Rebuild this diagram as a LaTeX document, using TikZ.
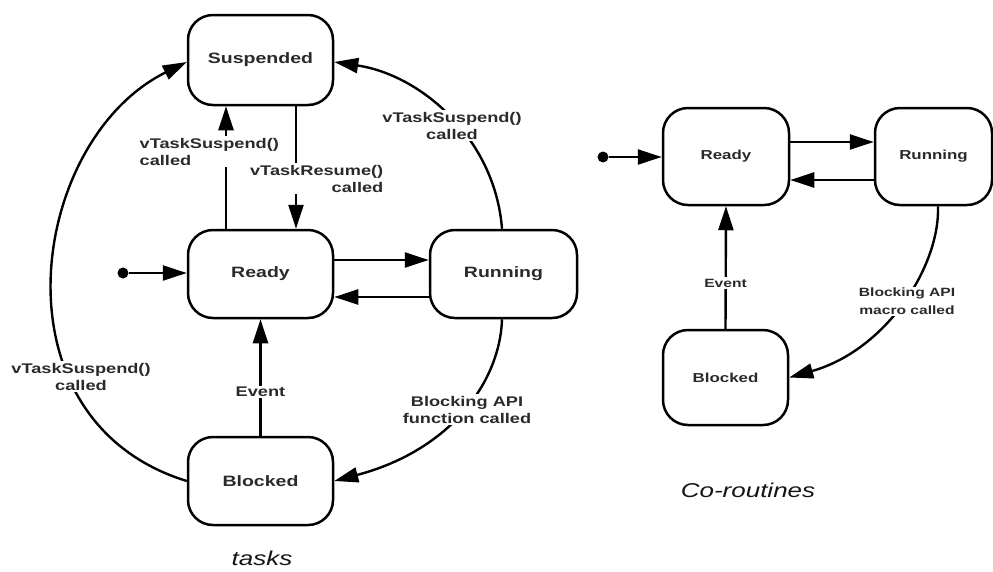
\documentclass[tikz,border=0pt]{standalone}
\usepackage{fontspec}
\setmainfont{Liberation Sans}[FakeStretch=1.3]
\usetikzlibrary{arrows.meta}
\definecolor{inkc}{HTML}{2A2A2A}
\definecolor{capc}{HTML}{151515}
\begin{document}
\begin{tikzpicture}[x=1pt,y=-1pt,
  state/.style={draw, line width=2.5pt, rounded corners=25pt, inner sep=0pt,
    text=inkc, font=\bfseries\fontsize{15}{18}\selectfont},
  cstate/.style={state, font=\bfseries\fontsize{13}{16}\selectfont},
  dot/.style={circle, fill=black, inner sep=0pt, minimum size=11pt},
  arr/.style={line width=2.4pt, -{Triangle[length=24pt,width=15pt]}},
  elabel/.style={fill=white, inner sep=1.5pt, text=inkc, align=center,
    font=\bfseries\fontsize{14}{17}\selectfont},
  clabel/.style={elabel, font=\bfseries\fontsize{12}{18}\selectfont},
  caption/.style={text=capc, font=\itshape\fontsize{20}{24}\selectfont}
]
\useasboundingbox[fill=white] (0,0) rectangle (993,571);

% ---- task states ----
\node[state, minimum width=145pt, minimum height=90pt] (susp) at (260.5,60) {Suspended};
\node[state, minimum width=145pt, minimum height=88pt] (rdy) at (260.5,274) {Ready};
\node[state, minimum width=147pt, minimum height=88pt] (run) at (503.5,274) {Running};
\node[state, minimum width=145pt, minimum height=88pt] (blk) at (260.5,481) {Blocked};
\node[dot] (init) at (123,273) {};

% ---- task transitions ----
\draw[arr] (init) -- (rdy.west |- init);
\draw[arr] ([yshift=14pt]rdy.east) -- ([yshift=14pt]run.west);
\draw[arr] ([yshift=-23pt]run.west) -- ([yshift=-23pt]rdy.east);
\draw[arr] ([xshift=-34.5pt]rdy.north) -- ([xshift=-34.5pt]susp.south);
\draw[arr] ([xshift=35.5pt]susp.south) -- ([xshift=35.5pt]rdy.north);
\draw[arr] (blk.north) -- (rdy.south);
\draw[arr] ([xshift=-1.5pt]run.north) .. controls +(-7,-90) and +(87,13) .. ([yshift=-2pt]susp.east);
\draw[arr] ([xshift=-1.5pt]run.south) .. controls +(-2,62) and +(117,-31) .. (blk.east);
\draw[arr] (blk.west) .. controls +(-198,-61) and +(-158,78) .. ([yshift=-2pt]susp.west);

% ---- task transition labels ----
\node[elabel, anchor=west, align=left] (lsusp1) at (138,151.5) {vTaskSuspend()\\called};
\node[elabel, anchor=east, align=right] (lres) at (385,178.5) {vTaskResume()\\called};
\node[elabel] (lsusp2) at (452,125.5) {vTaskSuspend()\\called};
\node[elabel] (lsusp3) at (81,376.5) {vTaskSuspend()\\called};
\node[elabel] (levt) at (260.5,392) {Event};
\node[elabel] (lblock) at (467,409.5) {Blocking API\\function called};
\node[caption] (captasks) at (262,558) {tasks};

% ---- co-routine states ----
\node[cstate, minimum width=126pt, minimum height=97pt] (crdy) at (726,156.5) {Ready};
\node[cstate, minimum width=117pt, minimum height=97pt] (crun) at (933.5,156.5) {Running};
\node[cstate, minimum width=125pt, minimum height=95pt] (cblk) at (725.5,377.5) {Blocked};
\node[dot] (cinit) at (603,157) {};

% ---- co-routine transitions ----
\draw[arr] (cinit) -- (crdy.west |- cinit);
\draw[arr] ([yshift=14.5pt]crdy.east) -- ([yshift=14.5pt]crun.west);
\draw[arr] ([yshift=-23.5pt]crun.west) -- ([yshift=-23.5pt]crdy.east);
\draw[arr] (cblk.north) -- (crdy.south);
\draw[arr] ([xshift=4.5pt]crun.south) .. controls +(2,60) and +(97,-27.5) .. (cblk.east);

\node[clabel] (cevt) at (725.5,283) {Event};
\node[clabel] (cblock) at (907,301.5) {Blocking API\\macro called};
\node[caption] (capco) at (748,490) {Co-routines};
\end{tikzpicture}
\end{document}
